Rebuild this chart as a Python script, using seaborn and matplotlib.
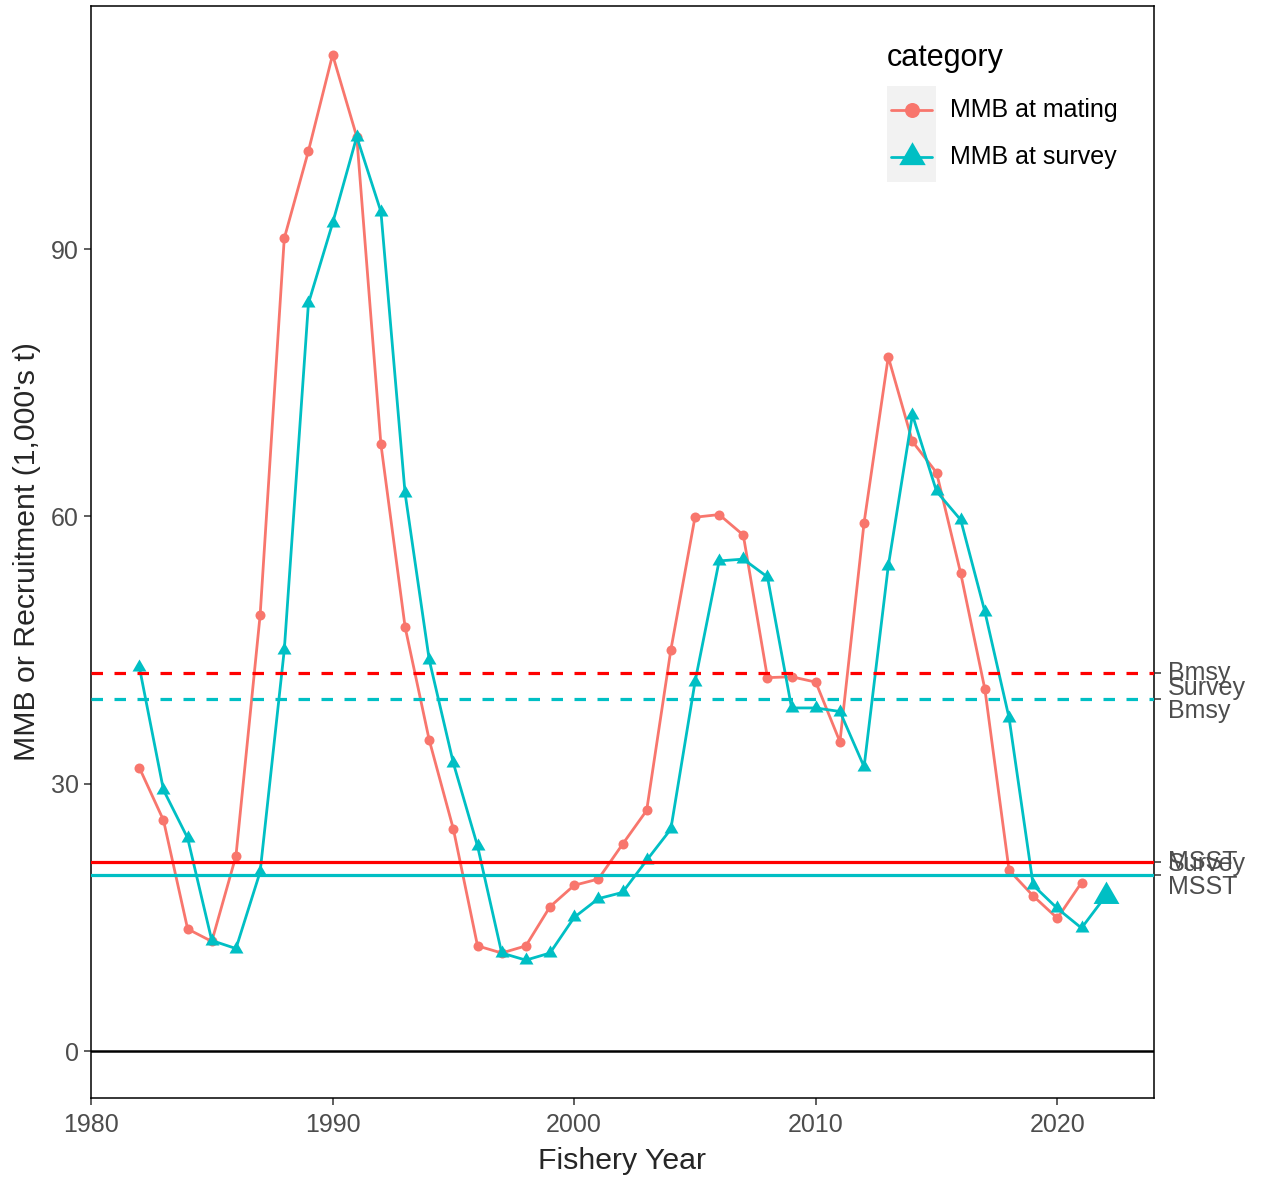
import numpy as np
import pandas as pd
import seaborn as sns
import matplotlib.pyplot as plt
from matplotlib.lines import Line2D
from matplotlib.patches import Rectangle

# ---- data -------------------------------------------------------------
years_mating = list(range(1982, 2022))
mmb_mating = [31.8, 25.9, 13.7, 12.3, 21.9, 48.9, 91.2, 101.0, 111.8, 102.6,
              68.1, 47.6, 34.9, 24.9, 11.8, 11.0, 11.8, 16.2, 18.6, 19.3,
              23.2, 27.0, 45.0, 59.9, 60.2, 57.9, 41.9, 42.0, 41.4, 34.7,
              59.3, 77.9, 68.4, 64.9, 53.6, 40.6, 20.3, 17.4, 14.9, 18.9]

years_survey = list(range(1982, 2023))
mmb_survey = [43.1, 29.3, 23.9, 12.4, 11.5, 20.1, 45.0, 83.9, 92.9, 102.6,
              94.2, 62.6, 43.9, 32.3, 23.0, 11.0, 10.2, 11.0, 15.0, 17.1,
              17.8, 21.4, 24.9, 41.4, 55.0, 55.2, 53.2, 38.5, 38.5, 38.1,
              31.9, 54.4, 71.4, 62.8, 59.6, 49.3, 37.4, 18.6, 16.0, 13.8, 17.4]

categories = ["MMB at mating", "MMB at survey"]

bmsy = 42.4
msst = 21.2
survey_bmsy = 39.5
survey_msst = 19.75
ref_labels = ["Bmsy", "Survey\nBmsy", "MSST", "Survey\nMSST"]

x_ticks = [1980, 1990, 2000, 2010, 2020]
y_ticks = [0, 30, 60, 90]

# ---- styling ----------------------------------------------------------
RED = "#F8766D"
TEAL = "#00BFC4"
TICK_TXT = "#4D4D4D"
TICK_COL = "#333333"

sns.set_style("ticks")
plt.rcParams["font.family"] = ["Liberation Sans", "DejaVu Sans"]

W, H = 1262, 1178
fig = plt.figure(figsize=(W / 100, H / 100), dpi=100)
L, R, T, B = 91, 1154, 6, 1098
ax = fig.add_axes([L / W, 1 - B / H, (R - L) / W, (B - T) / H])

# equilateral triangle centred on its centroid
tri = [(0, 1), (-0.866, -0.5), (0.866, -0.5)]

df_m = pd.DataFrame({"year": years_mating, "value": mmb_mating,
                     "category": categories[0]})
df_s = pd.DataFrame({"year": years_survey, "value": mmb_survey,
                     "category": categories[1]})

sns.lineplot(data=df_m, x="year", y="value", color=RED, marker="o",
             markersize=7.2, markeredgewidth=0, linewidth=2.0, ax=ax,
             legend=False, errorbar=None)
sns.lineplot(data=df_s, x="year", y="value", color=TEAL, marker=tri,
             markersize=11.6, markeredgewidth=0, linewidth=2.0, ax=ax,
             legend=False, errorbar=None)
# latest survey estimate shown with a larger symbol
last = df_s.tail(1)
sns.scatterplot(data=last, x="year", y="value", color=TEAL, marker=tri,
                s=21.5 ** 2, linewidth=0, ax=ax, legend=False, zorder=4)

# reference lines
dash = (0, (3.6, 3.6))
ax.axhline(bmsy, color="red", lw=2.3, ls=dash, zorder=5)
ax.axhline(survey_bmsy, color=TEAL, lw=2.3, ls=dash, zorder=5)
ax.axhline(msst, color="red", lw=2.3, zorder=5)
ax.axhline(survey_msst, color=TEAL, lw=2.3, zorder=5)
ax.axhline(0, color="black", lw=1.8, zorder=5)

ax.set_xlim(1980, 2024)
ax.set_ylim(-5.27, 117.27)
ax.set_xticks(x_ticks)
ax.set_yticks(y_ticks)
ax.tick_params(length=5, width=1.1, color=TICK_COL, labelcolor=TICK_TXT,
               labelsize=18, pad=4)
ax.tick_params(axis="x", pad=6)
for sp in ax.spines.values():
    sp.set_visible(True)
    sp.set_color("black")
    sp.set_linewidth(1.1)
ax.set_xlabel("Fishery Year", fontsize=21.8, labelpad=7)
ax.set_ylabel("MMB or Recruitment (1,000's t)", fontsize=21.8, labelpad=7)

# secondary axis naming the reference points
ax2 = ax.twinx()
ax2.set_ylim(ax.get_ylim())
ax2.set_yticks([bmsy, survey_bmsy, msst, survey_msst])
ax2.set_yticklabels(ref_labels)
ax2.tick_params(length=5, width=1.1, color=TICK_COL, labelcolor=TICK_TXT,
                labelsize=18, pad=5)
for lab in ax2.get_yticklabels():
    lab.set_verticalalignment("center")
    lab.set_linespacing(0.95)
for sp in ax2.spines.values():
    sp.set_visible(False)

# legend
def px(x, y):
    return x / W, 1 - y / H

fig.text(*px(887, 58), "category", fontsize=22, ha="left", va="center",
         color="black")
kx0, ky0 = px(887, 182)
fig.add_artist(Rectangle((kx0, ky0), 49 / W, 96 / H, transform=fig.transFigure,
                         facecolor="#F2F2F2", edgecolor="none"))
for yc, col, mk, ms, lab in [(110, RED, "o", 10.8, categories[0]),
                             (157, TEAL, tri, 22.0, categories[1])]:
    xa, ya = px(891, yc)
    xb, _ = px(932, yc)
    fig.add_artist(Line2D([xa, xb], [ya, ya], transform=fig.transFigure,
                          color=col, lw=2.0))
    xm, _ = px(911.5, yc)
    fig.add_artist(Line2D([xm], [ya], transform=fig.transFigure, color=col,
                          marker=mk, markersize=ms, markeredgewidth=0, lw=0))
    fig.text(*px(950, yc), lab, fontsize=18, ha="left", va="center",
             color="black")

fig.savefig("out.png", dpi=100)
